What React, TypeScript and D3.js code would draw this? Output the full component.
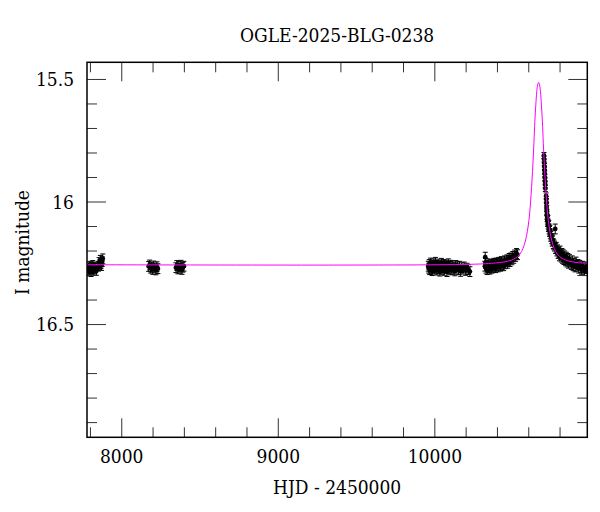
import React from "react";
import * as d3 from "d3";

const TITLE = "OGLE-2025-BLG-0238";
const X_LABEL = "HJD - 2450000";
const Y_LABEL = "I magnitude";

const X_DOMAIN = [7778, 10974];
const Y_DOMAIN = [15.43, 16.96];
const X_MAJOR = [8000, 9000, 10000];
const X_MINOR = [7800, 8200, 8400, 8600, 8800, 9200, 9400, 9600, 9800, 10200, 10400, 10600, 10800];
const Y_MAJOR = [15.5, 16, 16.5];
const Y_MINOR = [15.6, 15.7, 15.8, 15.9, 16.1, 16.2, 16.3, 16.4, 16.6, 16.7, 16.8, 16.9];

// photometry, season by season
const hjd2017 = [7786, 7789, 7793, 7796, 7800, 7804, 7808, 7811, 7815, 7819, 7823, 7828, 7833, 7838, 7851, 7855, 7859, 7863, 7867, 7871, 7875, 7879];
const mag2017 = [16.275, 16.268, 16.281, 16.262, 16.272, 16.284, 16.266, 16.274, 16.259, 16.278, 16.265, 16.271, 16.268, 16.279, 16.262, 16.247, 16.256, 16.238, 16.251, 16.259, 16.243, 16.232];

const hjd2018 = [8172, 8178, 8185, 8191, 8198, 8204, 8211, 8218, 8225, 8231, 8346, 8352, 8359, 8365, 8372, 8378, 8385, 8391, 8397];
const mag2018 = [16.263, 16.257, 16.27, 16.266, 16.275, 16.261, 16.269, 16.277, 16.264, 16.272, 16.268, 16.259, 16.273, 16.263, 16.27, 16.258, 16.275, 16.266, 16.262];

const hjd2023 = [9958, 9961, 9964, 9967, 9970, 9973, 9976, 9979, 9983, 9986, 9990, 9993, 9997, 10000, 10004, 10007, 10011, 10014, 10018, 10021, 10025, 10028, 10032, 10035, 10039, 10042, 10046, 10049, 10053, 10056, 10060, 10063, 10067, 10070, 10074, 10078, 10082, 10086, 10090, 10094, 10098, 10102, 10107, 10112, 10117, 10122, 10128, 10134, 10140, 10146, 10152, 10158, 10165, 10172, 10180, 10188, 10197, 10206, 10215, 10224];
const mag2023 = [16.262, 16.27, 16.255, 16.276, 16.264, 16.249, 16.271, 16.26, 16.28, 16.257, 16.268, 16.252, 16.274, 16.263, 16.246, 16.27, 16.259, 16.278, 16.265, 16.253, 16.272, 16.261, 16.282, 16.258, 16.269, 16.25, 16.275, 16.262, 16.268, 16.255, 16.279, 16.264, 16.257, 16.271, 16.26, 16.284, 16.266, 16.252, 16.273, 16.263, 16.277, 16.258, 16.27, 16.261, 16.275, 16.266, 16.281, 16.259, 16.27, 16.264, 16.276, 16.262, 16.283, 16.268, 16.274, 16.265, 16.279, 16.27, 16.276, 16.284];

const hjd2024 = [10320, 10322, 10324, 10327, 10331, 10334, 10338, 10341, 10345, 10348, 10352, 10356, 10360, 10364, 10368, 10372, 10376, 10380, 10384, 10388, 10392, 10396, 10400, 10404, 10408, 10412, 10416, 10420, 10425, 10430, 10435, 10440, 10445, 10450, 10455, 10460, 10465, 10470, 10475, 10480, 10486, 10492, 10498, 10504, 10510, 10516, 10522, 10528];
const mag2024 = [16.262, 16.225, 16.25, 16.27, 16.258, 16.276, 16.265, 16.252, 16.268, 16.26, 16.274, 16.262, 16.255, 16.27, 16.258, 16.266, 16.25, 16.262, 16.255, 16.268, 16.249, 16.26, 16.252, 16.265, 16.246, 16.258, 16.25, 16.262, 16.243, 16.255, 16.248, 16.26, 16.24, 16.252, 16.244, 16.236, 16.25, 16.238, 16.23, 16.243, 16.228, 16.236, 16.222, 16.23, 16.216, 16.222, 16.21, 16.215];

const hjd2025 = [10697, 10698, 10699, 10700, 10701, 10702, 10703, 10704, 10705, 10706, 10711, 10712, 10713, 10714, 10715, 10716, 10717, 10719, 10720, 10722, 10724, 10726, 10728, 10730, 10733, 10735, 10738, 10741, 10744, 10747, 10750, 10753, 10757, 10761, 10765, 10769, 10772, 10776, 10780, 10784, 10788, 10792, 10796, 10800, 10804, 10808, 10812, 10816, 10820, 10825, 10830, 10835, 10840, 10845, 10850, 10855, 10860, 10866, 10872, 10878, 10884, 10890, 10896, 10902, 10908, 10914, 10920, 10926, 10932, 10938, 10944, 10950, 10956, 10962, 10968];
const mag2025 = [15.81, 15.825, 15.84, 15.855, 15.87, 15.885, 15.9, 15.915, 15.93, 15.945, 15.975, 15.99, 16.005, 16.02, 16.035, 16.05, 16.06, 16.07, 16.08, 16.075, 16.09, 16.1, 16.095, 16.11, 16.12, 16.115, 16.13, 16.14, 16.135, 16.15, 16.16, 16.155, 16.17, 16.175, 16.18, 16.11, 16.19, 16.185, 16.2, 16.195, 16.21, 16.205, 16.22, 16.2, 16.215, 16.225, 16.21, 16.23, 16.215, 16.235, 16.22, 16.24, 16.225, 16.245, 16.23, 16.25, 16.235, 16.245, 16.255, 16.24, 16.26, 16.25, 16.265, 16.245, 16.262, 16.255, 16.27, 16.258, 16.268, 16.275, 16.262, 16.27, 16.28, 16.265, 16.272];

const ERR_BASE = 0.02;
const ERR_PEAK = 0.012;

// model light curve
const modelHjd = [7778, 10163, 10363, 10463, 10513, 10543, 10563, 10580, 10591, 10601, 10608, 10615, 10621, 10627, 10633, 10639, 10645, 10651, 10657, 10663, 10669, 10675, 10681, 10687, 10693, 10699, 10705, 10711, 10718, 10725, 10735, 10746, 10763, 10783, 10813, 10863, 10963, 10974];
const modelMag = [16.256, 16.255, 16.25, 16.242, 16.23, 16.213, 16.19, 16.155, 16.12, 16.075, 16.03, 15.97, 15.91, 15.84, 15.76, 15.67, 15.605, 15.55, 15.522, 15.512, 15.522, 15.55, 15.605, 15.67, 15.76, 15.84, 15.91, 15.97, 16.03, 16.075, 16.12, 16.155, 16.19, 16.213, 16.23, 16.242, 16.25, 16.25];

const FONT = "'DejaVu Serif Condensed', 'DejaVu Serif', serif";
const FS = 19;

export default function App() {
  const L = 87, R = 587.3, T = 62.3, B = 437.3;
  const x = d3.scaleLinear().domain(X_DOMAIN).range([L, R]);
  const y = d3.scaleLinear().domain(Y_DOMAIN).range([T, B]);

  const seasons = [
    [hjd2017, mag2017],
    [hjd2018, mag2018],
    [hjd2023, mag2023],
    [hjd2024, mag2024],
    [hjd2025, mag2025],
  ];
  const pts: { t: number; m: number; e: number }[] = [];
  seasons.forEach(([h, m]) => {
    h.forEach((t, i) => pts.push({ t, m: m[i], e: m[i] < 16.0 ? ERR_PEAK : ERR_BASE }));
  });

  const line = d3
    .line<number>()
    .x((_, i) => x(modelHjd[i]))
    .y((d) => y(d))
    .curve(d3.curveCatmullRom.alpha(0.5));

  const majLen = 19, minLen = 10;

  return (
    <svg width={600} height={512} style={{ position: "absolute", left: 0, top: 0, background: "#fff" }} fontFamily={FONT}>
      <rect x={0} y={0} width={600} height={512} fill="#fff" />
      <defs>
        <clipPath id="plotclip">
          <rect x={L} y={T} width={R - L} height={B - T} />
        </clipPath>
      </defs>
      <text x={(L + R) / 2} y={42} textAnchor="middle" fontSize={FS} fill="#000">{TITLE}</text>

      <g clipPath="url(#plotclip)">
        {pts.map((p, i) => (
          <g key={i} stroke="#000" strokeWidth={1}>
            <line x1={x(p.t)} x2={x(p.t)} y1={y(p.m - p.e)} y2={y(p.m + p.e)} />
            <line x1={x(p.t) - 2.5} x2={x(p.t) + 2.5} y1={y(p.m - p.e)} y2={y(p.m - p.e)} />
            <line x1={x(p.t) - 2.5} x2={x(p.t) + 2.5} y1={y(p.m + p.e)} y2={y(p.m + p.e)} />
            <circle cx={x(p.t)} cy={y(p.m)} r={2.4} fill="#000" stroke="none" />
          </g>
        ))}
        <path d={line(modelMag) || ""} fill="none" stroke="#ff00ff" strokeWidth={1} />
      </g>

      <g stroke="#333" strokeWidth={1}>
        {X_MAJOR.map((v) => (
          <g key={"xm" + v}>
            <line x1={x(v)} x2={x(v)} y1={B} y2={B - majLen} />
            <line x1={x(v)} x2={x(v)} y1={T} y2={T + majLen} />
          </g>
        ))}
        {X_MINOR.map((v) => (
          <g key={"xn" + v}>
            <line x1={x(v)} x2={x(v)} y1={B} y2={B - minLen} />
            <line x1={x(v)} x2={x(v)} y1={T} y2={T + minLen} />
          </g>
        ))}
        {Y_MAJOR.map((v) => (
          <g key={"ym" + v}>
            <line x1={L} x2={L + majLen} y1={y(v)} y2={y(v)} />
            <line x1={R} x2={R - majLen} y1={y(v)} y2={y(v)} />
          </g>
        ))}
        {Y_MINOR.map((v) => (
          <g key={"yn" + v}>
            <line x1={L} x2={L + minLen} y1={y(v)} y2={y(v)} />
            <line x1={R} x2={R - minLen} y1={y(v)} y2={y(v)} />
          </g>
        ))}
      </g>
      <rect x={L} y={T} width={R - L} height={B - T} fill="none" stroke="#000" strokeWidth={1.5} />

      {X_MAJOR.map((v) => (
        <text key={"xl" + v} x={x(v)} y={463} textAnchor="middle" fontSize={FS} fill="#000">{String(v)}</text>
      ))}
      {Y_MAJOR.map((v) => (
        <text key={"yl" + v} x={74} y={y(v) + 6.5} textAnchor="end" fontSize={FS} fill="#000">{String(v)}</text>
      ))}
      <text x={(L + R) / 2} y={494} textAnchor="middle" fontSize={FS} fill="#000">{X_LABEL}</text>
      <text transform={`translate(29, ${242.5}) rotate(-90)`} textAnchor="middle" fontSize={FS} fill="#000">{Y_LABEL}</text>
    </svg>
  );
}
